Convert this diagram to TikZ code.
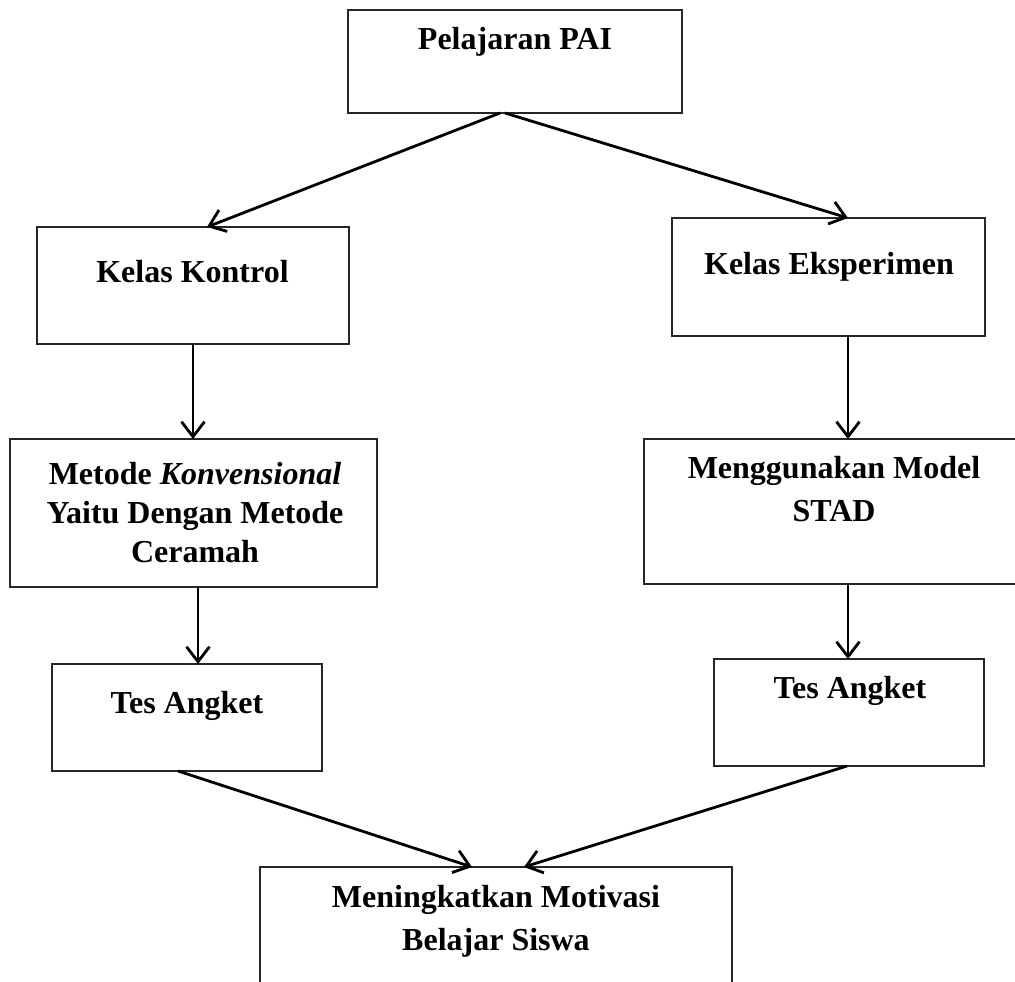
\documentclass[tikz,border=0pt]{standalone}
\usepackage{fontspec}
\setmainfont{Liberation Serif}
\usetikzlibrary{arrows.meta,calc}
\begin{document}
\begin{tikzpicture}[x=1pt,y=-1pt,
  box/.style={draw=black!85, line width=1.3pt, inner sep=0pt, outer sep=0pt},
  openbox/.style={inner sep=0pt, outer sep=0pt},
  lbl/.style={font=\fontsize{32}{#1}\selectfont\bfseries, inner sep=0pt, anchor=base},
  lbl/.default=41,
  arr/.style={line width=2.8pt, -{Straight Barb[length=15pt,width=23pt]}}
]
\clip (0,0) rectangle (1015,982);
\fill[white] (0,0) rectangle (1015,982);

% boxes
\node[box, minimum width=334pt, minimum height=103pt] (pai) at (515,61.5) {};
\node[box, minimum width=312pt, minimum height=117pt] (kontrol) at (193,285.5) {};
\node[box, minimum width=313pt, minimum height=118pt] (eksp) at (828.5,277) {};
\node[box, minimum width=367pt, minimum height=148pt] (metode) at (193.5,513) {};
\node[box, minimum width=380pt, minimum height=145pt] (stad) at (834,511.5) {};
\node[box, minimum width=270pt, minimum height=107pt] (tesL) at (187,717.5) {};
\node[box, minimum width=270pt, minimum height=107pt] (tesR) at (849,712.5) {};
\node[openbox, minimum width=472pt, minimum height=140pt] (fin) at (496,937) {};
\draw[draw=black!85, line width=1.3pt] (fin.south west) -- (fin.north west) -- (fin.north east) -- (fin.south east);

% labels
\node[lbl] (paiT) at (515,50) {Pelajaran PAI};
\node[lbl] (kontrolT) at (192.5,282) {Kelas Kontrol};
\node[lbl] (ekspT) at (829,274) {Kelas Eksperimen};
\node[lbl=39] (metodeT) at (195,484) {\begin{tabular}[t]{@{}c@{}}Metode \textit{Konvensional}\\Yaitu Dengan Metode\\Ceramah\end{tabular}};
\node[lbl=43] (stadT) at (834,478) {\begin{tabular}[t]{@{}c@{}}Menggunakan Model\\STAD\end{tabular}};
\node[lbl] (tesLT) at (187,713) {Tes Angket};
\node[lbl] (tesRT) at (850,698) {Tes Angket};
\node[lbl=43] (finT) at (496,907) {\begin{tabular}[t]{@{}c@{}}Meningkatkan Motivasi\\Belajar Siswa\end{tabular}};

% connectors
\coordinate (pL) at ($(pai.south)+(-15,0)$);
\coordinate (pR) at ($(pai.south)+(-10,0)$);
\coordinate (kIn) at ($(kontrol.north)+(14,0)$);
\coordinate (eIn) at ($(eksp.north)+(19.5,0)$);
\draw[arr] (pL) -- (kIn);
\draw[arr] (pR) -- (eIn);

\draw[arr] (kontrol.south) -- (kontrol.south |- metode.north);
\coordinate (eOut) at ($(eksp.south)+(19.5,0)$);
\draw[arr] (eOut) -- (eOut |- stad.north);

\coordinate (mOut) at ($(metode.south)+(4.5,0)$);
\draw[arr] (mOut) -- (mOut |- tesL.north);
\coordinate (sOut) at ($(stad.south)+(14,0)$);
\draw[arr] (sOut) -- (sOut |- tesR.north);

\coordinate (tLOut) at ($(tesL.south)+(-9,0)$);
\coordinate (tROut) at ($(tesR.south)+(-2,0)$);
\coordinate (fL) at ($(fin.north)+(-24,0)$);
\coordinate (fR) at ($(fin.north)+(28,0)$);
\draw[arr] (tLOut) -- (fL);
\draw[arr] (tROut) -- (fR);
\end{tikzpicture}
\end{document}
